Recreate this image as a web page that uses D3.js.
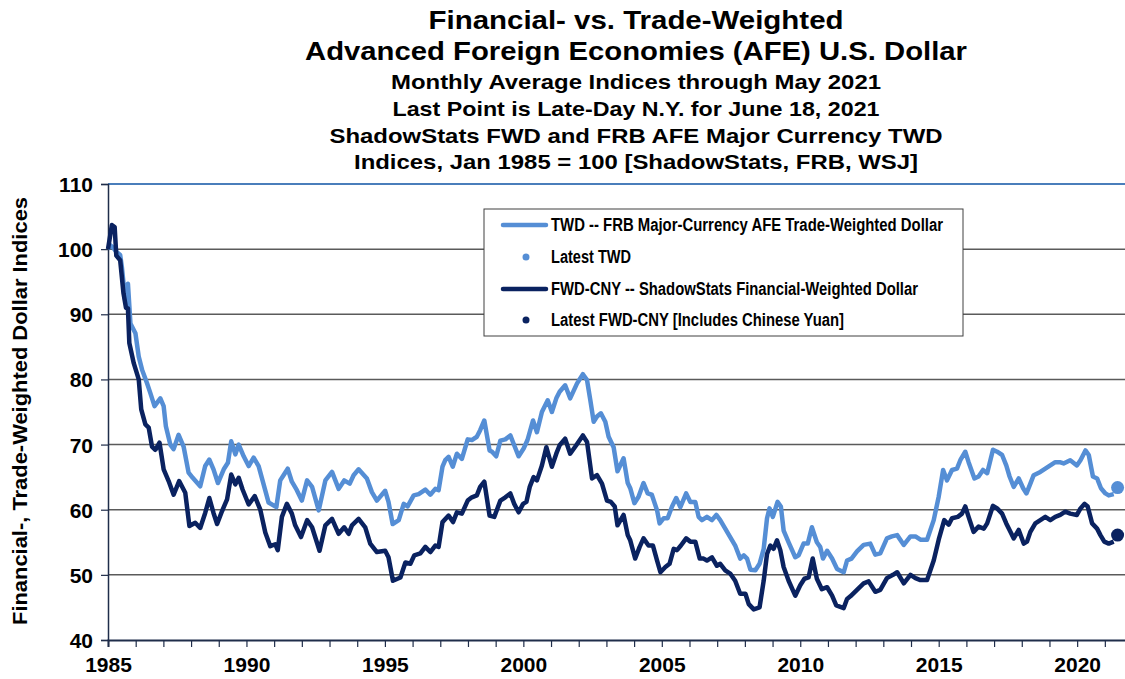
<!DOCTYPE html>
<html>
<head>
<meta charset="utf-8">
<script src="https://cdn.jsdelivr.net/npm/d3@7"></script>
<style>
  body { margin: 0; background: #fff; }
  svg { display: block; font-family: Arial, "Liberation Sans", sans-serif; font-weight: bold; }
</style>
</head>
<body>
<svg id="chart"></svg>
<script>
const width = 1125, height = 679
const margin = { top: 184, left: 108, bottom: 640 }

// chart text
const titleLines = [
  "Financial- vs. Trade-Weighted",
  "Advanced Foreign Economies (AFE) U.S. Dollar",
  "Monthly Average Indices through May 2021",
  "Last Point is Late-Day N.Y. for June 18, 2021",
  "ShadowStats FWD and FRB AFE Major Currency TWD",
  "Indices, Jan 1985 = 100 [ShadowStats, FRB, WSJ]"
]
const yLabel = "Financial-,  Trade-Weighted Dollar Indices"
const legendLabels = [
  "TWD -- FRB Major-Currency AFE Trade-Weighted Dollar",
  "Latest TWD",
  "FWD-CNY -- ShadowStats Financial-Weighted Dollar",
  "Latest FWD-CNY [Includes Chinese Yuan]"
]
const yTicks = [40, 50, 60, 70, 80, 90, 100, 110]
const xLabelYears = [1985, 1990, 1995, 2000, 2005, 2010, 2015, 2020]

// TWD (FRB AFE trade-weighted), decimal years
const twdYears = [1985.00,1985.08,1985.17,1985.30,1985.44,1985.50,1985.62,1985.72,1985.81,1985.99,1986.11,1986.23,1986.41,1986.53,1986.68,1986.89,1987.01,1987.09,1987.25,1987.37,1987.55,1987.73,1987.91,1988.06,1988.33,1988.51,1988.66,1988.81,1988.97,1989.18,1989.33,1989.45,1989.60,1989.72,1989.90,1990.08,1990.26,1990.44,1990.62,1990.80,
  1991.08,1991.22,1991.34,1991.49,1991.64,1991.82,1992.00,1992.19,1992.37,1992.61,1992.85,1993.09,1993.33,1993.53,1993.73,1993.87,1994.05,1994.35,1994.53,1994.71,1995.01,1995.13,1995.28,1995.50,1995.68,1995.82,1996.04,1996.22,1996.46,1996.64,1996.82,1996.94,
  1997.08,1997.18,1997.30,1997.45,1997.60,1997.78,1997.99,1998.14,1998.32,1998.44,1998.59,1998.78,1998.87,1999.02,1999.17,1999.35,1999.53,1999.67,1999.83,2000.01,2000.15,2000.35,2000.49,2000.67,2000.88,2001.03,2001.19,2001.31,2001.51,2001.69,2001.94,2002.15,2002.30,2002.42,2002.54,2002.66,2002.80,2002.96,2003.08,2003.26,
  2003.40,2003.62,2003.77,2003.86,2004.01,2004.16,2004.34,2004.49,2004.64,2004.83,2004.92,2005.07,2005.21,2005.37,2005.52,2005.67,2005.88,2006.03,2006.21,2006.33,2006.45,2006.63,2006.81,2006.97,2007.11,2007.29,2007.47,2007.65,2007.83,2007.96,2008.08,2008.20,2008.38,2008.53,2008.68,2008.80,2008.89,2009.01,2009.18,2009.30,
  2009.40,2009.58,2009.82,2009.94,2010.12,2010.27,2010.42,2010.60,2010.72,2010.82,2010.97,2011.15,2011.33,2011.57,2011.69,2011.85,
  2012.05,2012.29,2012.53,2012.71,2012.89,2013.13,2013.31,2013.50,2013.74,2013.98,2014.16,2014.34,2014.58,2014.82,2015.00,2015.16,2015.30,2015.48,2015.66,2015.78,2015.96,2016.08,2016.29,2016.44,2016.60,2016.75,2016.96,2017.11,2017.29,2017.44,2017.56,2017.71,2017.89,2018.05,2018.17,2018.31,2018.43,2018.67,2018.85,2019.03,2019.21,2019.37,2019.51,2019.75,2019.99,2020.12,2020.30,2020.42,2020.57,2020.72,2020.86,2021.02,2021.14,2021.32]
const twdValues = [100,100.6,100.3,99.6,99.1,97.3,92.2,94.7,88.6,87.1,83.5,81.5,79.4,77.9,75.9,77.1,75.9,72.8,70,69.3,71.5,69.7,65.7,64.9,63.6,66.7,67.7,66.2,64.1,66.2,67.2,70.5,68.5,70,68.2,66.7,68,66.7,63.9,61.1,
  60.4,64.5,65.3,66.3,64.3,63,61.4,64.5,63.5,59.9,64.5,65.8,63.2,64.5,64,65.3,66.2,64.8,62.7,61.4,62.9,61.2,57.8,58.4,60.9,60.5,62.2,62.4,63.1,62.3,63.2,63,
  66.6,67.6,68.1,66.6,68.6,67.8,70.8,70.7,71.2,72.2,73.7,69.1,68.9,68.2,70.6,70.8,71.4,69.9,68.2,69.4,70.7,73.7,71.9,75,76.8,75,77.1,78.1,79.1,77.1,79.4,80.8,79.9,76.8,73.5,74.3,74.8,73.5,71.2,69.6,
  65.9,67.9,64.1,63.3,61,62,64.1,62.5,62.3,59.9,57.9,58.7,58.7,60.5,61.8,60.4,62.5,61.2,61.2,58.9,58.4,58.9,58.4,59.2,58.4,57.1,55.8,54.5,52.5,53,52.5,50.8,50.7,51.7,54,58.7,60.2,58.9,61.2,60.5,
  56.8,55,52.7,53,54.8,54.8,57.3,55,54.3,52.5,53.7,52.5,50.9,50.4,52.2,52.5,
  53.6,54.6,54.8,53.1,53.3,55.6,55.9,56.1,54.6,55.9,55.9,55.4,55.4,58.4,62,66.1,64.5,66.1,66.3,67.6,68.9,67.3,64.8,65.1,66.1,65.6,69.2,68.9,68.4,66.8,65.1,63.5,64.8,63.3,62.5,64,65.3,65.8,66.3,66.8,67.3,67.3,67.1,67.6,66.8,67.6,69.1,68.4,65.1,64.8,63.3,62.5,62.2,62.4]

// FWD-CNY (ShadowStats financial-weighted)
const fwdYears = [1985.00,1985.14,1985.24,1985.30,1985.44,1985.56,1985.65,1985.72,1985.77,1985.93,1986.11,1986.20,1986.35,1986.47,1986.59,1986.71,1986.86,1987.01,1987.19,1987.37,1987.57,1987.79,1987.94,1988.15,1988.33,1988.51,1988.66,1988.81,1988.94,1989.12,1989.30,1989.45,1989.60,1989.72,1989.86,1990.08,1990.30,1990.50,1990.68,1990.86,1991.04,
  1991.13,1991.28,1991.46,1991.64,1991.76,1991.97,1992.19,1992.37,1992.64,1992.85,1993.09,1993.33,1993.53,1993.69,1993.81,1994.05,1994.29,1994.47,1994.71,1995.01,1995.13,1995.29,1995.56,1995.74,1995.92,1996.06,1996.28,1996.46,1996.64,1996.82,1996.94,
  1997.08,1997.30,1997.46,1997.60,1997.78,1997.99,1998.14,1998.32,1998.44,1998.59,1998.78,1998.95,1999.17,1999.35,1999.53,1999.67,1999.83,1999.99,2000.11,2000.23,2000.37,2000.49,2000.67,2000.83,2001.03,2001.19,2001.31,2001.51,2001.69,2001.91,2002.15,2002.30,2002.48,2002.66,2002.84,2003.02,2003.16,2003.30,
  2003.40,2003.62,2003.77,2003.86,2004.04,2004.20,2004.34,2004.52,2004.68,2004.83,2004.95,2005.13,2005.28,2005.43,2005.55,2005.69,2005.88,2006.03,2006.21,2006.37,2006.51,2006.63,2006.81,2006.99,2007.11,2007.29,2007.47,2007.65,2007.83,2008.02,2008.14,2008.32,2008.53,2008.68,2008.80,2008.92,2009.04,2009.16,2009.28,
  2009.40,2009.58,2009.82,2010.00,2010.15,2010.30,2010.45,2010.60,2010.78,2010.97,2011.15,2011.30,2011.57,2011.69,2011.81,
  2012.05,2012.29,2012.47,2012.71,2012.89,2013.13,2013.35,2013.50,2013.74,2013.98,2014.16,2014.34,2014.58,2014.82,2015.00,2015.20,2015.36,2015.48,2015.69,2015.84,2015.96,2016.08,2016.26,2016.44,2016.63,2016.75,2016.96,2017.11,2017.29,2017.44,2017.59,2017.71,2017.89,2018.07,2018.19,2018.31,2018.49,2018.67,2018.85,2019.03,2019.21,2019.39,2019.57,2019.75,2019.99,2020.12,2020.27,2020.38,2020.54,2020.72,2020.84,2020.98,2021.14,2021.32]
const fwdValues = [100,103.7,103.4,99,98.3,93.2,91,90.9,85.6,82.5,80,75.4,73.1,72.6,69.7,69.2,70.3,66.2,64.4,62.3,64.4,62.6,57.5,58,57.2,59.5,61.8,59.5,57.8,59.8,61.6,65.4,63.9,64.9,63.1,60.8,62.1,60,56.5,54.4,54.7,
  53.8,58.9,60.9,59.4,57.6,55.8,58.4,57.3,53.7,57.6,58.6,56.3,57.3,56.3,57.6,58.6,57.3,54.8,53.5,53.7,52.7,49.1,49.6,51.9,51.7,53,53.3,54.3,53.5,54.5,54.3,
  58.1,59.1,58.1,59.6,59.4,61.4,61.9,62.2,63.5,64.3,59.1,58.9,61.4,61.9,62.5,60.9,59.6,60.9,61.2,63.5,65,64.5,66.8,69.6,66.6,68.6,69.9,70.9,68.6,69.9,71.4,70.4,64.8,65.3,64,61.4,61.2,60.5,
  57.6,59.2,56.1,55.3,52.5,54.3,55.6,54.5,54.5,52.2,50.4,51.2,51.7,54,53.8,54.5,55.6,55.1,55.1,52.5,52.5,52.2,52.7,51.4,51.7,50.7,50.2,49.1,47.1,47.1,45.5,44.7,45,49.1,53.2,54.5,54,55.3,53.8,
  51.2,49.1,46.8,48.4,49.4,49.6,52.5,49.4,47.8,48.1,46.8,45.3,44.9,46.3,46.7,
  47.7,48.7,49,47.4,47.7,49.5,50,50.4,48.7,50,49.5,49.2,49.2,52.2,55.4,58.4,57.7,58.7,58.9,59.4,60.5,58.9,56.6,57.4,57.1,57.9,60.6,60.2,59.4,57.9,56.6,55.6,56.9,54.8,55.1,56.6,57.9,58.4,58.9,58.4,58.9,59.2,59.7,59.4,59.2,60.2,60.9,60.5,57.9,57.1,56.1,55.1,54.8,55.1]

// latest late-day points, June 18 2021
const latestYear = 2021.46
const latestTwd = 63.4
const latestFwd = 56.1

const colors = { twd: "#558ed5", fwd: "#0a2260" }

const svg = d3.select("#chart")
  .attr("width", width)
  .attr("height", height)

const x = d3.scaleLinear().domain([1985, 2022]).range([margin.left, margin.left + 37 * 27.69])
const y = d3.scaleLinear().domain([40, 110]).range([margin.bottom, margin.top])

// titles
const titleY = [29, 60, 89, 116, 143, 169]
const titleSize = [26.5, 26.5, 21, 21, 21, 21]
const titleLen = [415, 662, 490, 487, 613, 564]
svg.append("g").selectAll("text")
  .data(titleLines)
  .join("text")
  .attr("x", 636)
  .attr("y", (d, i) => titleY[i])
  .attr("text-anchor", "middle")
  .attr("font-size", (d, i) => titleSize[i])
  .attr("textLength", (d, i) => titleLen[i])
  .attr("lengthAdjust", "spacingAndGlyphs")
  .text(d => d)

// gridlines
svg.append("g")
  .selectAll("line")
  .data(yTicks.filter(d => d > 40 && d < 110))
  .join("line")
  .attr("x1", margin.left).attr("x2", width)
  .attr("y1", d => y(d)).attr("y2", d => y(d))
  .attr("stroke", "#5a5a5a")
  .attr("stroke-width", 1.5)

svg.append("line")
  .attr("x1", margin.left).attr("x2", width)
  .attr("y1", y(110)).attr("y2", y(110))
  .attr("stroke", "#4a7ebb")
  .attr("stroke-width", 2)

// axes
const yAxis = svg.append("g")
  .attr("transform", `translate(${margin.left},0)`)
  .call(d3.axisLeft(y).tickValues(yTicks).tickSize(7).tickPadding(8))
yAxis.select(".domain").attr("stroke", "#1f2d4a").attr("stroke-width", 1.5)
yAxis.selectAll(".tick line").attr("stroke", "#1f2d4a").attr("stroke-width", 1.2)
yAxis.selectAll(".tick text")
  .attr("font-size", 21).attr("font-weight", "bold").attr("font-family", "Arial, 'Liberation Sans', sans-serif")
  .attr("fill", "#000").attr("dy", "0.36em")

const xAxis = svg.append("g")
  .attr("transform", `translate(0,${margin.bottom})`)
  .call(d3.axisBottom(x).tickValues(d3.range(1985, 2022)).tickSize(7)
    .tickFormat(d => xLabelYears.includes(d) ? d : ""))
xAxis.select(".domain").attr("stroke", "#1f2d4a").attr("stroke-width", 2)
xAxis.selectAll(".tick line").attr("stroke", "#1f2d4a").attr("stroke-width", 1.2)
xAxis.selectAll(".tick text")
  .attr("font-size", 21).attr("font-weight", "bold").attr("font-family", "Arial, 'Liberation Sans', sans-serif")
  .attr("fill", "#000").attr("y", 17).attr("dy", "0.71em")

// y axis title
svg.append("text")
  .attr("transform", "translate(27,411) rotate(-90)")
  .attr("text-anchor", "middle")
  .attr("font-size", 20.5)
  .attr("textLength", 428)
  .attr("lengthAdjust", "spacingAndGlyphs")
  .text(yLabel)

// lines
const line = d3.line().x(d => x(d[0])).y(d => y(d[1]))
const twd = twdYears.map((d, i) => [d, twdValues[i]])
const fwd = fwdYears.map((d, i) => [d, fwdValues[i]])

svg.append("path")
  .datum(twd)
  .attr("fill", "none")
  .attr("stroke", colors.twd)
  .attr("stroke-width", 4.5)
  .attr("stroke-linejoin", "round")
  .attr("d", line)

svg.append("path")
  .datum(fwd)
  .attr("fill", "none")
  .attr("stroke", colors.fwd)
  .attr("stroke-width", 4.5)
  .attr("stroke-linejoin", "round")
  .attr("d", line)

svg.append("circle")
  .attr("cx", x(latestYear)).attr("cy", y(latestTwd)).attr("r", 6.5)
  .attr("fill", colors.twd)
svg.append("circle")
  .attr("cx", x(latestYear)).attr("cy", y(latestFwd)).attr("r", 6.5)
  .attr("fill", colors.fwd)

// legend
const legend = svg.append("g").attr("transform", "translate(484,209)")
legend.append("rect")
  .attr("width", 479).attr("height", 127)
  .attr("fill", "#fff").attr("stroke", "#404040").attr("stroke-width", 1)

const rowY = [16, 48, 80, 111]
const rowKind = ["line", "dot", "line", "dot"]
const rowColor = [colors.twd, colors.twd, colors.fwd, colors.fwd]
const textLen = [392, 80, 367, 293]

const rows = legend.selectAll("g.row")
  .data(legendLabels)
  .join("g")
  .attr("transform", (d, i) => `translate(0,${rowY[i]})`)

rows.filter((d, i) => rowKind[i] === "line")
  .append("line")
  .attr("x1", 19).attr("x2", 62)
  .attr("stroke", (d, i) => rowColor[legendLabels.indexOf(d)])
  .attr("stroke-width", 4.5)
  .attr("stroke-linecap", "round")

rows.filter((d, i) => rowKind[i] === "dot")
  .append("circle")
  .attr("cx", 42).attr("r", 3.5)
  .attr("fill", d => rowColor[legendLabels.indexOf(d)])

rows.append("text")
  .attr("x", 67).attr("dy", "0.36em")
  .attr("font-size", 17.5)
  .attr("textLength", d => textLen[legendLabels.indexOf(d)])
  .attr("lengthAdjust", "spacingAndGlyphs")
  .text(d => d)
</script>
</body>
</html>
